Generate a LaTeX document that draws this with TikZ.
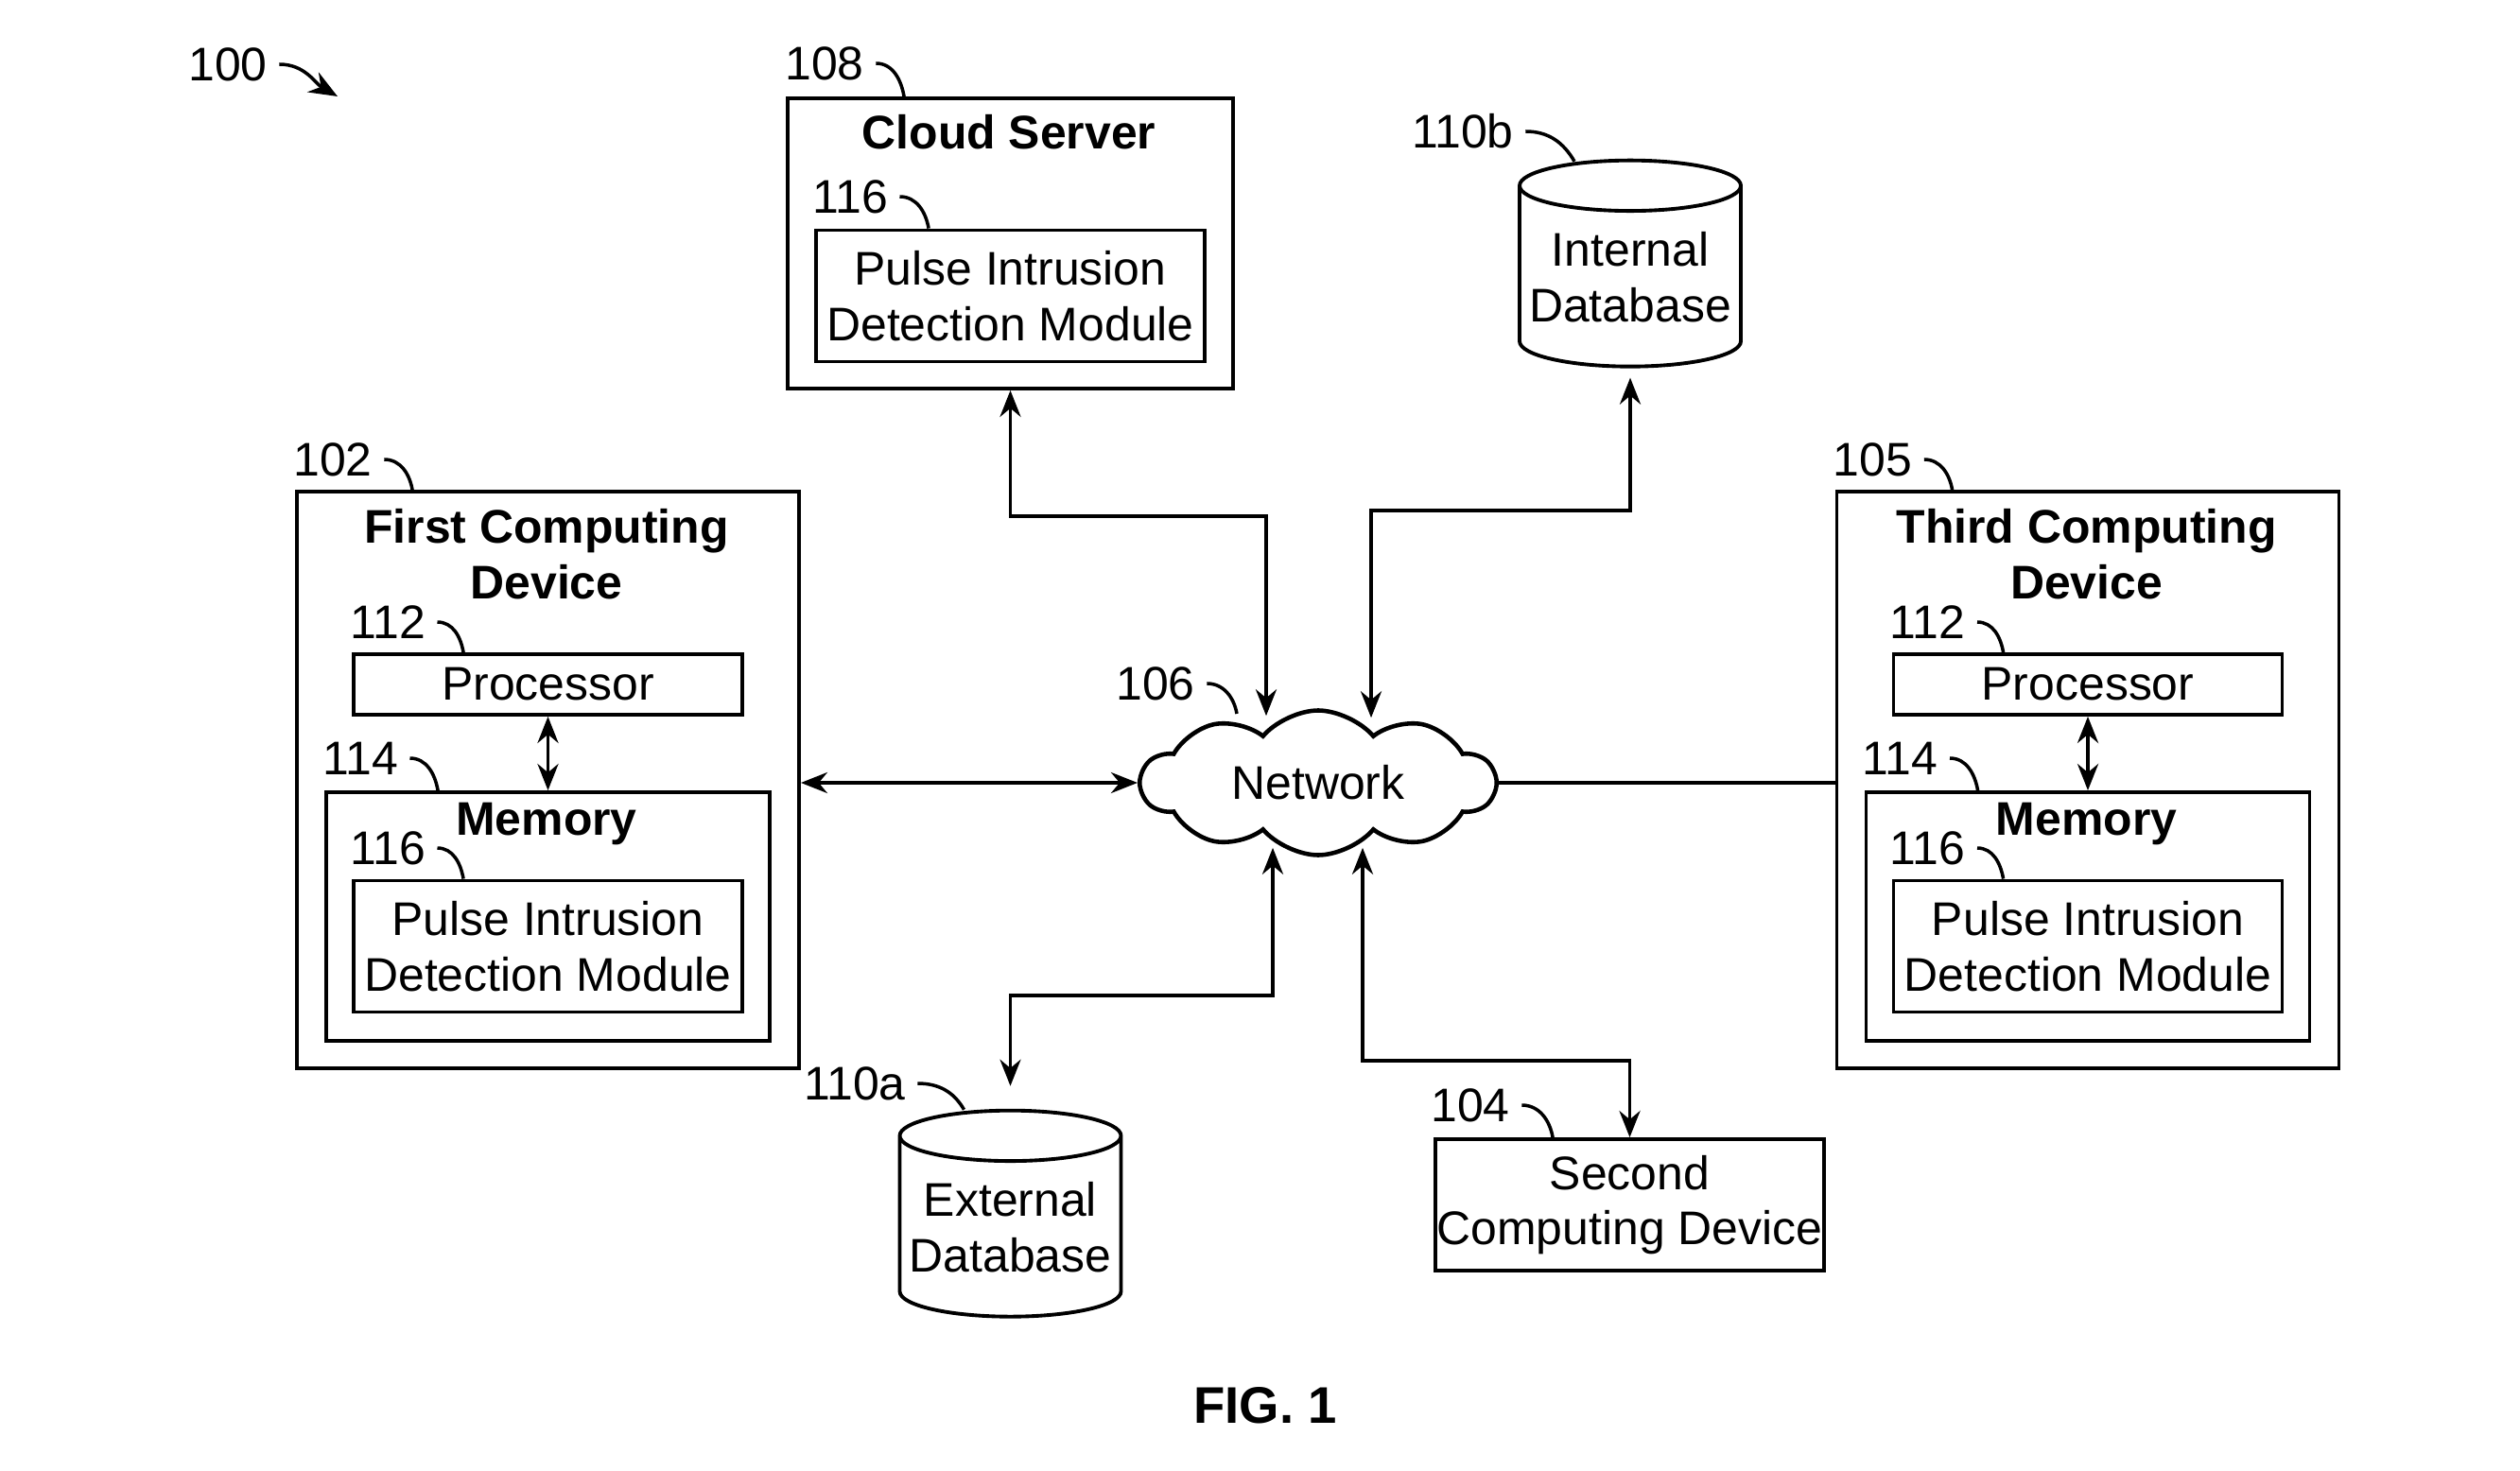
\documentclass[tikz,border=0pt]{standalone}
\usepackage{fontspec}
\setmainfont{Liberation Sans}
\usetikzlibrary{positioning, shapes.geometric, shapes.symbols, arrows.meta, calc}

\begin{document}
\begin{tikzpicture}[
    x=1cm, y=1cm,
    font=\fontsize{14.2}{16.6}\selectfont,
    box/.style={rectangle, draw, line width=1.1pt, inner sep=0pt, align=center},
    modbox/.style={box, minimum width=4.11cm, minimum height=1.39cm},
    procbox/.style={box, minimum width=4.11cm, minimum height=0.64cm},
    membox/.style={box, minimum width=4.69cm, minimum height=2.63cm},
    devbox/.style={box, minimum width=5.31cm, minimum height=6.10cm},
    dbase/.style={cylinder, shape border rotate=90, draw, line width=1.1pt, aspect=0.25,
        minimum width=2.34cm, minimum height=2.18cm, inner sep=0pt, align=center},
    heading/.style={font=\fontsize{14.2}{16.9}\selectfont\bfseries, align=center, inner sep=0pt},
    refnum/.style={inner sep=1.2mm},
    lead/.style={line width=1pt},
    link/.style={<->, line width=1.1pt, >={Stealth[length=2.8mm, width=2.2mm]}}
]
\useasboundingbox (0,0) rectangle (26.65,15.55);

% Figure number
\node[refnum] (l100) at (2.41,14.87) {100};
\coordinate (figtip) at (3.57,14.53);
\draw[lead, -{Stealth[length=3mm, width=2.4mm]}] (l100.east) to[out=0, in=150] (figtip);

% Cloud server
\node[box, minimum width=4.71cm, minimum height=3.07cm] (srv) at (10.685,12.975) {};
\node[heading] (srvtitle) at (10.67,14.15) {Cloud Server};
\node[modbox] (srvpidm) at (10.685,12.42) {Pulse Intrusion\\Detection Module};
\node[refnum] (l108) at (8.72,14.88) {108};
\draw[lead] (l108.east) to[out=0, in=100] ([xshift=1.25cm]srv.north west);
\node[refnum] (l116a) at (8.99,13.47) {116};
\draw[lead] (l116a.east) to[out=0, in=100] ([xshift=1.21cm]srvpidm.north west);

% Internal database
\node[dbase] (intdb) at (17.24,12.62) {Internal\\Database};
\node[refnum] (l110b) at (15.47,14.16) {110b};
\draw[lead] (l110b.east) to[out=0, in=120] ([xshift=-0.59cm, yshift=-0.03cm]intdb.north);

% First computing device
\node[devbox] (dev1) at (5.795,7.30) {};
\node[heading] (dev1title) at (5.78,9.69) {First Computing\\Device};
\node[refnum] (l102) at (3.52,10.69) {102};
\draw[lead] (l102.east) to[out=0, in=100] ([xshift=1.24cm]dev1.north west);
\node[procbox] (proc1) at (5.795,8.31) {Processor};
\node[refnum] (l112a) at (4.10,8.97) {112};
\draw[lead] (l112a.east) to[out=0, in=100] ([xshift=1.18cm]proc1.north west);
\node[membox] (mem1) at (5.795,5.855) {};
\node[heading] (mem1title) at (5.78,6.83) {Memory};
\node[refnum] (l114a) at (3.81,7.53) {114};
\draw[lead] (l114a.east) to[out=0, in=100] ([xshift=1.20cm]mem1.north west);
\node[modbox] (pidm1) at (5.795,5.54) {Pulse Intrusion\\Detection Module};
\node[refnum] (l116b) at (4.10,6.58) {116};
\draw[lead] (l116b.east) to[out=0, in=100] ([xshift=1.18cm]pidm1.north west);
\draw[link] (proc1) -- (mem1);

% Third computing device
\node[devbox] (dev3) at (22.08,7.30) {};
\node[heading] (dev3title) at (22.065,9.69) {Third Computing\\Device};
\node[refnum] (l105) at (19.805,10.69) {105};
\draw[lead] (l105.east) to[out=0, in=100] ([xshift=1.24cm]dev3.north west);
\node[procbox] (proc3) at (22.08,8.31) {Processor};
\node[refnum] (l112b) at (20.385,8.97) {112};
\draw[lead] (l112b.east) to[out=0, in=100] ([xshift=1.18cm]proc3.north west);
\node[membox] (mem3) at (22.08,5.855) {};
\node[heading] (mem3title) at (22.065,6.83) {Memory};
\node[refnum] (l114b) at (20.095,7.53) {114};
\draw[lead] (l114b.east) to[out=0, in=100] ([xshift=1.20cm]mem3.north west);
\node[modbox] (pidm3) at (22.08,5.54) {Pulse Intrusion\\Detection Module};
\node[refnum] (l116c) at (20.385,6.58) {116};
\draw[lead] (l116c.east) to[out=0, in=100] ([xshift=1.18cm]pidm3.north west);
\draw[link] (proc3) -- (mem3);

% Network
\node[cloud, draw, line width=1.3pt, cloud puffs=10, cloud puff arc=100, aspect=2.4,
    minimum width=3.74cm, minimum height=1.53cm, inner sep=0pt] (net) at (13.94,7.27) {Network};
\node[refnum] (l106) at (12.22,8.32) {106};
\draw[lead] (l106.east) to[out=0, in=100] (13.08,8.00);
\coordinate (netN1) at ([xshift=-0.55cm, yshift=-0.08cm]net.north);
\coordinate (netN2) at ([xshift=0.56cm, yshift=-0.10cm]net.north);
\coordinate (netS1) at ([xshift=-0.48cm, yshift=0.10cm]net.south);
\coordinate (netS2) at ([xshift=0.47cm, yshift=0.10cm]net.south);

% External database
\node[dbase] (extdb) at (10.685,2.57) {External\\Database};
\node[refnum] (l110a) at (9.04,4.09) {110a};
\draw[lead] (l110a.east) to[out=0, in=120] ([xshift=-0.49cm, yshift=-0.01cm]extdb.north);

% Second computing device
\node[modbox] (dev2) at (17.235,2.805) {Second\\Computing Device};
\node[refnum] (l104) at (15.55,3.86) {104};
\draw[lead] (l104.east) to[out=0, in=100] ([xshift=1.26cm]dev2.north west);

% Connections
\draw[link] (net.west -| dev1.east) -- (net.west);
\draw[line width=1.1pt] (net.east) -- (net.east -| dev3.west);
\draw[link] (srv.south) -- ++(0,-1.33) -| (netN1);
\draw[link] ([yshift=-1mm]intdb.south) -- ++(0,-1.40) -| (netN2);
\draw[link] (netS1) -- ++(0,-1.56) -| ([yshift=2.4mm]extdb.north);
\draw[link] (netS2) -- ++(0,-2.25) -| (dev2.north);

\node[heading, font=\fontsize{15.5}{18}\selectfont\bfseries] (fig) at (13.38,0.68) {FIG. 1};

\end{tikzpicture}
\end{document}
